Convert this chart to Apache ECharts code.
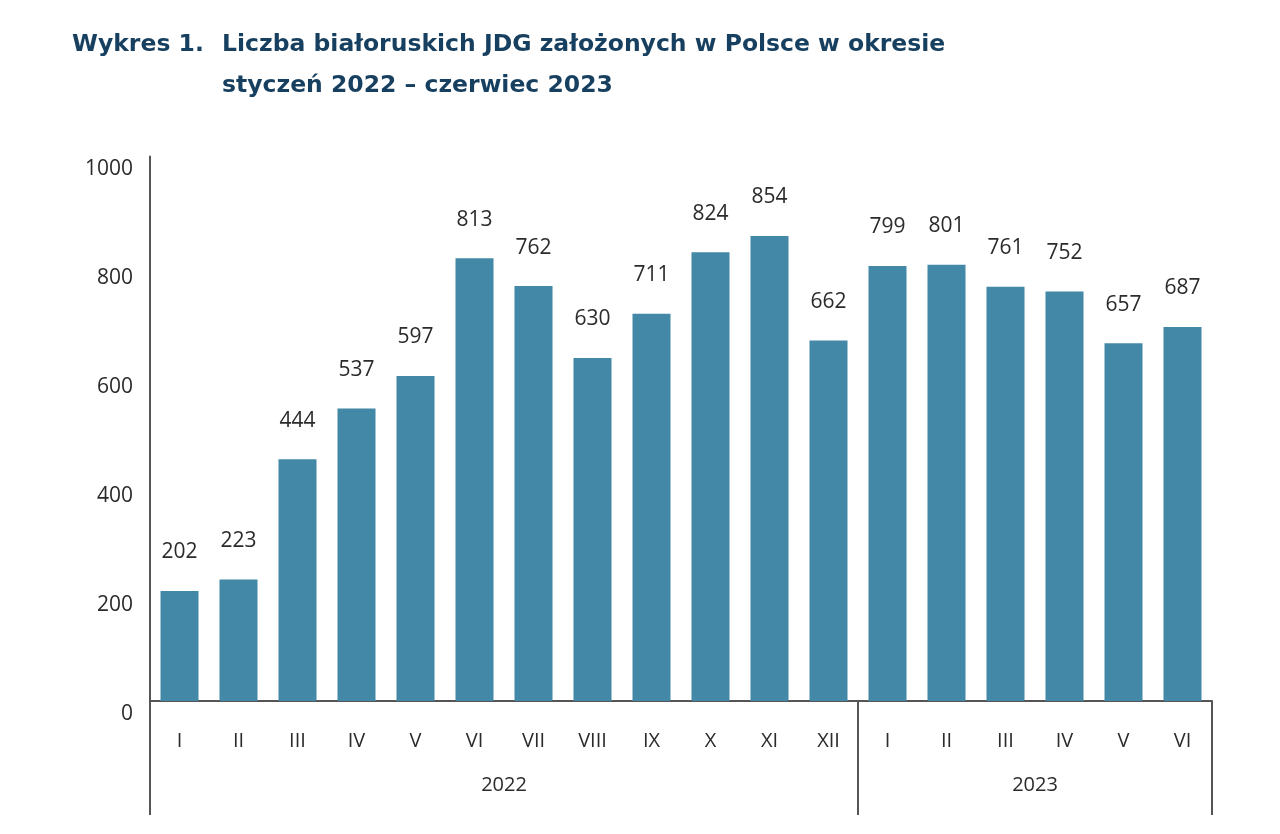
<!DOCTYPE html>
<html>
<head>
<meta charset="utf-8">
<script src="https://cdn.jsdelivr.net/npm/echarts@6/dist/echarts.min.js"></script>
<style>
  html, body { margin: 0; padding: 0; background: #fff; }
  #chart { width: 1280px; height: 834px; }
</style>
</head>
<body>
<div id="chart"></div>
<script>
const months = ["I", "II", "III", "IV", "V", "VI", "VII", "VIII", "IX", "X", "XI", "XII",
                "I", "II", "III", "IV", "V", "VI"];
const counts = [202, 223, 444, 537, 597, 813, 762, 630, 711, 824, 854, 662,
                799, 801, 761, 752, 657, 687];
const years = ["2022", "2023"];
const yearCenters = [6, 15];     // middle of each year span, in category units
const yearBounds = [0, 12, 18];  // separators between years

const textColor = "#2b2b2b";
const lineColor = "#555";
const font = "'Open Sans', sans-serif";
const titleFont = "'DejaVu Sans', sans-serif";

const chart = echarts.init(document.getElementById("chart"));

chart.setOption({
    backgroundColor: "#fff",
    animation: false,
    title: [
        {
            text: "Wykres 1.",
            left: 67,
            top: 19,
            textStyle: { color: "#173f5f", fontFamily: titleFont, fontWeight: "bold", fontSize: 23.5, lineHeight: 41 }
        },
        {
            text: "Liczba białoruskich JDG założonych w Polsce w okresie\nstyczeń 2022 – czerwiec 2023",
            left: 217,
            top: 19,
            textStyle: { color: "#173f5f", fontFamily: titleFont, fontWeight: "bold", fontSize: 23.5, lineHeight: 41 }
        }
    ],
    grid: {
        left: 150,
        right: 68,
        top: 156.5,
        bottom: 133
    },
    xAxis: [
        {
            type: "category",
            data: months,
            axisLine: { lineStyle: { color: lineColor, width: 2 } },
            axisTick: { show: false },
            axisLabel: { color: textColor, fontFamily: font, fontSize: 20, margin: 30 }
        },
        {
            type: "value",
            position: "bottom",
            min: 0,
            max: 18,
            axisLine: { show: false },
            splitLine: { show: false },
            axisTick: {
                show: true,
                customValues: yearBounds,
                length: 114,
                lineStyle: { color: lineColor, width: 2 }
            },
            axisLabel: {
                customValues: yearCenters,
                formatter: v => years[yearCenters.indexOf(v)] || "",
                color: textColor,
                fontFamily: font,
                fontSize: 20,
                margin: 74
            }
        }
    ],
    yAxis: {
        type: "value",
        min: 0,
        max: 1000,
        interval: 200,
        axisLine: { show: true, lineStyle: { color: lineColor, width: 2 } },
        axisTick: { show: false },
        splitLine: { show: false },
        axisLabel: {
            color: textColor,
            fontFamily: font,
            fontSize: 21,
            margin: 17,
            lineHeight: 26,
            // labels sit a little below their tick in the original
            formatter: v => "\n" + v
        }
    },
    series: [
        {
            type: "bar",
            data: counts,
            barWidth: 38,
            itemStyle: { color: "#4388a6" },
            label: {
                show: true,
                position: "top",
                distance: 28,
                color: textColor,
                fontFamily: font,
                fontSize: 21
            }
        }
    ]
});
</script>
</body>
</html>
